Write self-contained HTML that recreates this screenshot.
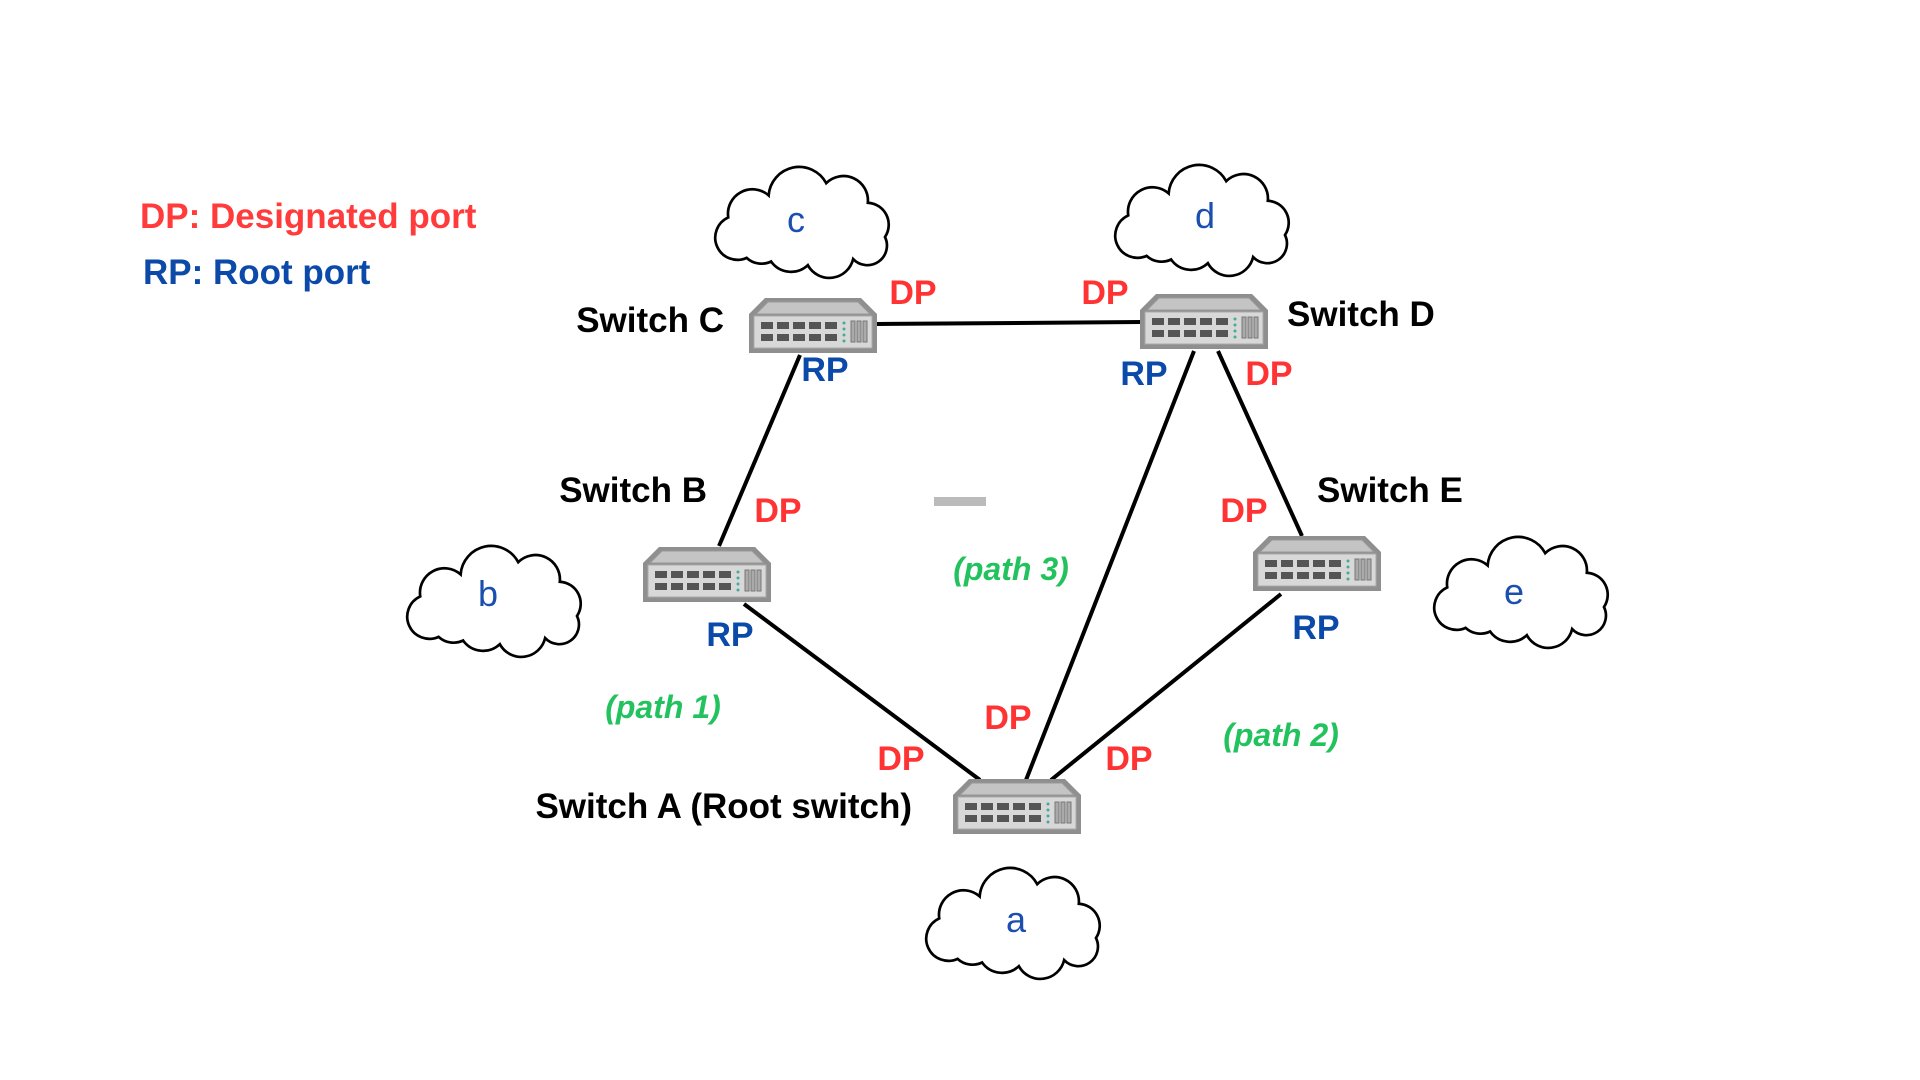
<!DOCTYPE html>
<html><head><meta charset="utf-8"><style>body{margin:0;background:#fff}svg{display:block}</style></head><body>
<svg width="1920" height="1080" viewBox="0 0 1920 1080" xmlns="http://www.w3.org/2000/svg">
<defs>
<g id="sw">
<polygon points="16,0 112,0 128,16 128,55 0,55 0,16" fill="#8f8f8f"/>
<polygon points="19,4 109,4 121,16 7,16" fill="#c4c4c4" stroke="#999" stroke-width="1"/>
<rect x="5" y="18" width="118" height="32" fill="#d8d8d8" stroke="#aaa"/>
<g fill="#555">
<rect x="12" y="24" width="12" height="7"/><rect x="28" y="24" width="12" height="7"/><rect x="44" y="24" width="12" height="7"/><rect x="60" y="24" width="12" height="7"/><rect x="76" y="24" width="12" height="7"/>
<rect x="12" y="36" width="12" height="7"/><rect x="28" y="36" width="12" height="7"/><rect x="44" y="36" width="12" height="7"/><rect x="60" y="36" width="12" height="7"/><rect x="76" y="36" width="12" height="7"/>
</g>
<g fill="#4a9"><circle cx="95" cy="25" r="1.5"/><circle cx="95" cy="31" r="1.5"/><circle cx="95" cy="37" r="1.5"/><circle cx="95" cy="43" r="1.5"/></g>
<g fill="#aaa" stroke="#777"><rect x="102" y="23" width="4" height="21"/><rect x="108" y="23" width="4" height="21"/><rect x="114" y="23" width="4" height="21"/></g>
</g>
<path id="cl" d="M25,75 A18,18 0 0 1 10,42 A20,20 0 0 1 43,24 A25,25 0 0 1 90,14 A20,20 0 0 1 124,30 A18,18 0 0 1 138,58 A16,16 0 0 1 112,76 A20,20 0 0 1 75,81 A20,20 0 0 1 45,78 A18,18 0 0 1 25,75 Z" fill="#fff" stroke="#000" stroke-width="2.2"/>
</defs>
<g stroke="#000" stroke-width="4" fill="none">
<line x1="877" y1="324" x2="1141" y2="322"/>
<line x1="800" y1="355" x2="719" y2="546"/>
<line x1="744" y1="604" x2="980" y2="780"/>
<line x1="1194" y1="351" x2="1026" y2="780"/>
<line x1="1218" y1="351" x2="1302" y2="536"/>
<line x1="1281" y1="594" x2="1051" y2="780"/>
</g>
<use href="#sw" x="749" y="298"/>
<use href="#sw" x="1140" y="294"/>
<use href="#sw" x="643" y="547"/>
<use href="#sw" x="1253" y="536"/>
<use href="#sw" x="953" y="779"/>
<g transform="translate(716,166) scale(1.2245)"><use href="#cl"/></g>
<g transform="translate(1116,164) scale(1.2245)"><use href="#cl"/></g>
<g transform="translate(408,545) scale(1.2245)"><use href="#cl"/></g>
<g transform="translate(1435,536) scale(1.2245)"><use href="#cl"/></g>
<g transform="translate(927,867) scale(1.2245)"><use href="#cl"/></g>
<rect x="934" y="497" width="52" height="9" fill="#bbb"/>
<g font-family="Liberation Sans, sans-serif" font-size="36" fill="#1a4fb0" text-anchor="middle">
<text x="796" y="232">c</text><text x="1205" y="228">d</text><text x="488" y="606">b</text><text x="1514" y="604">e</text><text x="1016" y="932">a</text>
</g>
<g font-family="Liberation Sans, sans-serif" font-weight="bold" font-size="35">
<text x="140" y="228" fill="#ff3b3b">DP: Designated port</text>
<text x="143" y="284" fill="#0b4aa8">RP: Root port</text>
<g fill="#000">
<text x="724" y="332" text-anchor="end">Switch C</text>
<text x="1287" y="326">Switch D</text>
<text x="707" y="502" text-anchor="end">Switch B</text>
<text x="1317" y="502">Switch E</text>
<text x="912" y="818" text-anchor="end">Switch A (Root switch)</text>
</g>
<g fill="#ff3333" text-anchor="middle" font-size="34">
<text x="913" y="304">DP</text><text x="1105" y="304">DP</text><text x="1269" y="385">DP</text>
<text x="778" y="522">DP</text><text x="1244" y="522">DP</text><text x="1008" y="729">DP</text>
<text x="901" y="770">DP</text><text x="1129" y="770">DP</text>
</g>
<g fill="#0b4aa8" text-anchor="middle" font-size="34">
<text x="825" y="381">RP</text><text x="1144" y="385">RP</text><text x="730" y="646">RP</text><text x="1316" y="639">RP</text>
</g>
<g fill="#22c25e" font-style="italic" font-size="32" text-anchor="middle">
<text x="663" y="718">(path 1)</text><text x="1011" y="580">(path 3)</text><text x="1281" y="746">(path 2)</text>
</g>
</g>
</svg>
</body></html>
